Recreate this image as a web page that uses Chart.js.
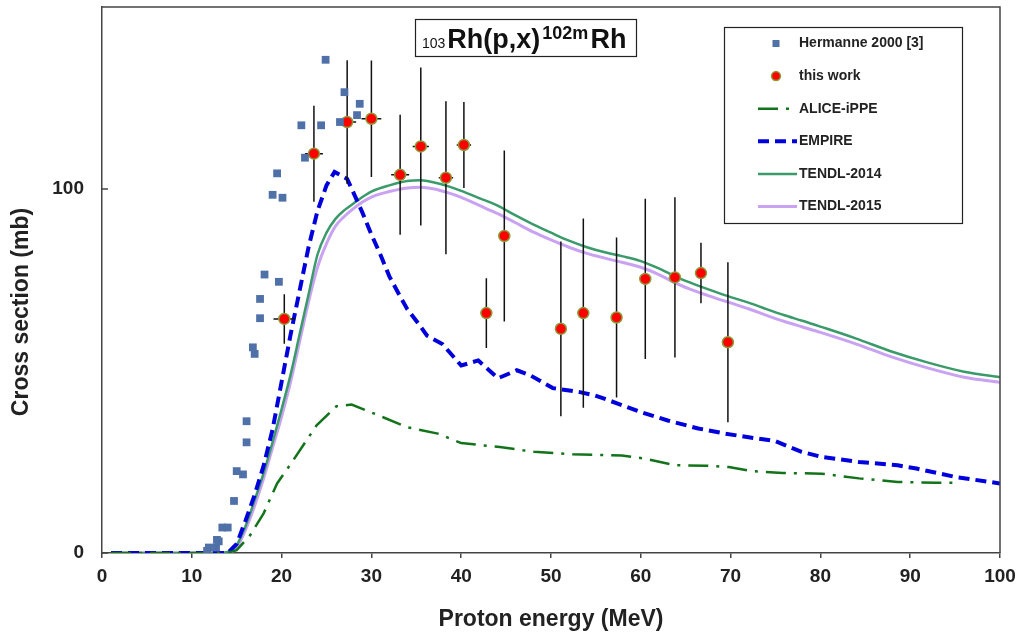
<!DOCTYPE html>
<html>
<head>
<meta charset="utf-8">
<title>103Rh(p,x)102mRh</title>
<script src="https://cdn.jsdelivr.net/npm/chart.js@4.4.0/dist/chart.umd.min.js"></script>
<style>
  body { margin: 0; background: #fff; }
  #wrap { width: 1018px; height: 639px; }
</style>
</head>
<body>
<div id="wrap"><canvas id="xsChart" width="1018" height="639"></canvas></div>
<script>
const FONT = 'Arial, "Liberation Sans", Helvetica, sans-serif';

// Hermanne 2000 [3]
const hermanneE  = [11.7, 11.9, 12.7, 12.8, 13.0, 13.4, 14.0, 14.7, 15.0, 15.7, 16.1, 16.1, 16.8, 17.0, 17.6, 17.6, 18.1, 19.7, 19.0, 20.1, 19.5, 22.6, 22.2, 24.4, 26.5, 28.4, 28.7, 27.0, 24.9];
const hermanneXs = [0.6, 1.5, 1.5, 3.6, 3.2, 7.0, 7.0, 14.3, 22.5, 21.6, 30.4, 36.2, 56.5, 54.7, 64.5, 69.8, 76.5, 74.5, 98.4, 97.6, 104.3, 108.6, 117.5, 117.5, 118.4, 120.3, 123.4, 126.6, 135.5];

// this work
const workE    = [20.3, 23.6, 27.3, 30.0, 33.2, 35.5, 38.3, 40.3, 42.8, 44.8, 51.1, 53.6, 57.3, 60.5, 63.8, 66.7, 69.7];
const workXs   = [64.3, 109.7, 118.4, 119.3, 103.9, 111.7, 103.1, 112.1, 65.9, 87.1, 61.6, 65.9, 64.7, 75.3, 75.7, 76.9, 57.9];
const workErrY = [6.8, 13.2, 17.0, 16.0, 16.5, 21.7, 21.0, 11.8, 9.6, 23.5, 24.0, 26.0, 22.0, 22.0, 22.0, 8.3, 22.0];
const workErrE = [1.2, 1.0, 1.0, 1.1, 1.0, 0.9, 0.8, 0.8, 0.6, 0.5, 0.4, 0.4, 0.3, 0.3, 0.3, 0.3, 0.3];

// ALICE-IPPE
const aliceE  = [1, 14, 15, 16.5, 18, 19.5, 21.3, 23.9, 26.1, 27.8, 31.3, 33.9, 37.4, 40, 44.3, 48.1, 52.4, 57.9, 60.5, 63.9, 67.3, 69.8, 72.4, 75.8, 80.1, 84.3, 88.6, 92.9, 95.2];
const aliceXs = [0, 0, 0.8, 4.9, 10.9, 19.1, 25.5, 35.1, 40.3, 40.8, 37.3, 34.6, 32.8, 30.2, 29.1, 27.8, 27.1, 26.8, 25.9, 24.1, 24.0, 23.6, 22.5, 22.0, 21.8, 20.5, 19.5, 19.3, 19.3];

// EMPIRE
const empireE  = [1, 14, 15, 16, 17, 18, 19, 20, 21, 22, 23, 24, 25, 25.9, 27.3, 28, 29, 30, 31, 32, 33.2, 34, 35.4, 36.2, 37.9, 40.0, 41.9, 44.1, 46.2, 47.7, 50.2, 53.2, 54.9, 57.5, 60.0, 63.0, 66.4, 69.4, 72, 74.9, 77.9, 80.1, 84.3, 88.6, 90.7, 95.0, 100];
const empireXs = [0, 0, 2.5, 9, 16, 24, 34, 47, 60, 72, 84, 94, 101, 104.7, 102.8, 99, 93.5, 87.5, 82, 76, 70.5, 67, 62.5, 59.7, 57.4, 51.5, 52.9, 48.0, 50.2, 48.8, 45.3, 44.2, 43.3, 41.0, 38.7, 36.4, 34.2, 32.8, 31.8, 30.8, 27.8, 26.4, 25.0, 24.1, 23.2, 20.9, 19.1];

// TENDL-2014 and TENDL-2015 (same energy grid)
const tendlE    = [1, 13, 14, 15, 16, 17, 18, 19, 20, 21, 22, 23, 24, 25, 26, 27, 28, 29, 30, 32, 34, 35.5, 37, 38.5, 40, 42, 44, 46, 48, 50, 52, 54, 56, 58, 60, 62, 64, 66, 68, 70, 72, 74, 76, 78, 80, 84, 88, 92, 96, 100];
const tendl14Xs = [0, 0, 0.3, 2.2, 7.5, 14.5, 22, 30.5, 39.5, 49, 60, 71, 82, 88, 91.8, 94.2, 96, 97.8, 99.3, 101, 102.2, 102.4, 101.8, 100.8, 99.5, 97.5, 95.5, 92.8, 90.3, 88, 85.8, 84, 82.6, 81.5, 80.2, 78.2, 75.8, 73.8, 72, 70.3, 68.8, 67, 65.3, 63.8, 62.2, 58.9, 55.3, 52.3, 49.8, 48.3];
const tendl15Xs = [0, 0, 0, 1.5, 6.5, 13, 20.5, 29, 37.5, 47, 58, 69, 78.5, 85, 89.8, 92.5, 94.6, 96.4, 97.8, 99.3, 100.3, 100.5, 100, 99, 97.7, 95.5, 93.3, 90.8, 88.2, 86, 84, 82.3, 81, 79.8, 78.5, 76.5, 74, 72, 70.3, 68.7, 67.1, 65.3, 63.6, 62.1, 60.6, 57.4, 53.8, 50.8, 48.3, 46.9];

const xTicks = [0, 10, 20, 30, 40, 50, 60, 70, 80, 90, 100];
const yTicks = [0, 100];

function toPoints(xs, ys) {
    return xs.map((x, i) => ({ x: x, y: ys[i] }));
}

// error bars, title box, legend box, plot frame
const decorPlugin = {
    id: 'decor',
    beforeDatasetDraw(chart, args) {
        if (args.index !== 1) return;
        const ctx = chart.ctx;
        const xs = chart.scales.x, ys = chart.scales.y;
        ctx.save();
        ctx.strokeStyle = '#111';
        ctx.lineWidth = 1.5;
        workE.forEach((e, i) => {
            const px = xs.getPixelForValue(e);
            const py = ys.getPixelForValue(workXs[i]);
            ctx.beginPath();
            ctx.moveTo(px, ys.getPixelForValue(workXs[i] + workErrY[i]));
            ctx.lineTo(px, ys.getPixelForValue(workXs[i] - workErrY[i]));
            ctx.moveTo(xs.getPixelForValue(e - workErrE[i]), py);
            ctx.lineTo(xs.getPixelForValue(e + workErrE[i]), py);
            ctx.stroke();
        });
        ctx.restore();
    },
    afterDraw(chart) {
        const ctx = chart.ctx;
        const a = chart.chartArea;
        ctx.save();

        // frame: top and right edges
        ctx.strokeStyle = '#444';
        ctx.lineWidth = 1.5;
        ctx.beginPath();
        ctx.moveTo(a.left, a.top);
        ctx.lineTo(a.right, a.top);
        ctx.lineTo(a.right, a.bottom);
        ctx.stroke();

        // y ticks point inwards
        yTicks.forEach(v => {
            const py = chart.scales.y.getPixelForValue(v);
            ctx.beginPath();
            ctx.moveTo(a.left, py);
            ctx.lineTo(a.left + 6, py);
            ctx.stroke();
        });

        // y axis title (centred lower than the axis middle, as in the original)
        ctx.save();
        ctx.translate(22, 312);
        ctx.rotate(-Math.PI / 2);
        ctx.font = 'bold 23px ' + FONT;
        ctx.fillStyle = '#222';
        ctx.textAlign = 'center';
        ctx.textBaseline = 'middle';
        ctx.fillText('Cross section (mb)', 0, 0);
        ctx.restore();

        // title box
        ctx.fillStyle = '#fff';
        ctx.fillRect(415, 19, 222, 38);
        ctx.strokeStyle = '#222';
        ctx.lineWidth = 1.2;
        ctx.strokeRect(415.5, 19.5, 221, 37);
        ctx.fillStyle = '#111';
        ctx.textBaseline = 'alphabetic';
        ctx.textAlign = 'left';
        const parts = [
            { t: '103', f: '14px ' + FONT, y: 48 },
            { t: 'Rh(p,x)', f: 'bold 27px ' + FONT, y: 48 },
            { t: '102m', f: 'bold 18px ' + FONT, y: 39 },
            { t: 'Rh', f: 'bold 27px ' + FONT, y: 48 }
        ];
        let tx = 422;
        parts.forEach(p => {
            ctx.font = p.f;
            ctx.fillText(p.t, tx, p.y);
            tx += ctx.measureText(p.t).width + 2;
        });

        // legend
        ctx.fillStyle = '#fff';
        ctx.fillRect(724, 27, 238, 196);
        ctx.strokeStyle = '#222';
        ctx.lineWidth = 1.2;
        ctx.strokeRect(724.5, 27.5, 238, 196);
        ctx.font = 'bold 14px ' + FONT;
        ctx.textBaseline = 'middle';
        chart.data.datasets.forEach((ds, i) => {
            const ly = 43.5 + i * 32.6;
            ctx.save();
            if (ds.showLine) {
                ctx.strokeStyle = ds.borderColor;
                ctx.lineWidth = ds.borderWidth;
                ctx.setLineDash(ds.borderDash || []);
                ctx.beginPath();
                ctx.moveTo(758, ly);
                ctx.lineTo(797, ly);
                ctx.stroke();
            } else if (ds.pointStyle === 'rect') {
                ctx.fillStyle = ds.backgroundColor;
                ctx.fillRect(772.5, ly - 3.5, 7, 7);
            } else {
                ctx.fillStyle = ds.backgroundColor;
                ctx.strokeStyle = ds.borderColor;
                ctx.lineWidth = ds.borderWidth;
                ctx.beginPath();
                ctx.arc(776, ly, 4.5, 0, Math.PI * 2);
                ctx.fill();
                ctx.stroke();
            }
            ctx.restore();
            ctx.fillStyle = '#222';
            ctx.fillText(ds.label, 799, ly);
        });
        ctx.restore();
    }
};

const ctx = document.getElementById('xsChart').getContext('2d');

new Chart(ctx, {
    type: 'scatter',
    data: {
        datasets: [{
            label: 'Hermanne 2000 [3]',
            data: toPoints(hermanneE, hermanneXs),
            pointStyle: 'rect',
            pointRadius: 5.5,
            backgroundColor: '#5070a8',
            borderColor: '#5070a8',
            borderWidth: 0,
            showLine: false
        }, {
            label: 'this work',
            data: toPoints(workE, workXs),
            pointStyle: 'circle',
            pointRadius: 5.5,
            backgroundColor: '#ff0000',
            borderColor: '#8c9c3a',
            borderWidth: 1.5,
            showLine: false
        }, {
            label: 'ALICE-iPPE',
            data: toPoints(aliceE, aliceXs),
            showLine: true,
            pointRadius: 0,
            borderColor: '#13731a',
            borderWidth: 2.5,
            borderDash: [20, 8, 3, 8],
            tension: 0
        }, {
            label: 'EMPIRE',
            data: toPoints(empireE, empireXs),
            showLine: true,
            pointRadius: 0,
            borderColor: '#0000dd',
            borderWidth: 4,
            borderDash: [11, 6],
            tension: 0
        }, {
            label: 'TENDL-2014',
            data: toPoints(tendlE, tendl14Xs),
            showLine: true,
            pointRadius: 0,
            borderColor: '#3a9a6a',
            borderWidth: 2.5,
            cubicInterpolationMode: 'monotone'
        }, {
            label: 'TENDL-2015',
            data: toPoints(tendlE, tendl15Xs),
            showLine: true,
            pointRadius: 0,
            borderColor: '#c9a2f2',
            borderWidth: 3,
            cubicInterpolationMode: 'monotone'
        }]
    },
    options: {
        responsive: false,
        animation: false,
        events: [],
        layout: {
            padding: { left: 0, right: 18, top: 5, bottom: 0 }
        },
        plugins: {
            legend: { display: false },
            tooltip: { enabled: false }
        },
        scales: {
            x: {
                type: 'linear',
                min: 0,
                max: 100,
                afterBuildTicks: function (s) {
                    s.ticks = xTicks.map(v => ({ value: v }));
                },
                afterFit: function (s) {
                    s.height = 86;
                    s.paddingLeft = 0;
                    s.paddingRight = 0;
                },
                grid: {
                    display: true,
                    drawOnChartArea: false,
                    drawTicks: true,
                    tickLength: 5,
                    color: '#444',
                    lineWidth: 1.5
                },
                border: { display: true, color: '#444', width: 1.5 },
                ticks: {
                    font: { family: FONT, size: 19, weight: 'bold' },
                    color: '#222',
                    padding: 7,
                    maxRotation: 0,
                    autoSkip: false
                },
                title: {
                    display: true,
                    text: 'Proton energy (MeV)',
                    font: { family: FONT, size: 23, weight: 'bold' },
                    color: '#222',
                    padding: { top: 0, bottom: 6 }
                }
            },
            y: {
                type: 'linear',
                min: 0,
                max: 150,
                afterBuildTicks: function (s) {
                    s.ticks = yTicks.map(v => ({ value: v }));
                },
                afterFit: function (s) {
                    s.width = 102;
                    s.paddingTop = 0;
                    s.paddingBottom = 0;
                },
                grid: { display: false, drawTicks: false },
                border: { display: true, color: '#444', width: 1.5 },
                ticks: {
                    font: { family: FONT, size: 19, weight: 'bold' },
                    color: '#222',
                    padding: 18
                },
                title: { display: false }
            }
        }
    },
    plugins: [decorPlugin]
});
</script>
</body>
</html>
